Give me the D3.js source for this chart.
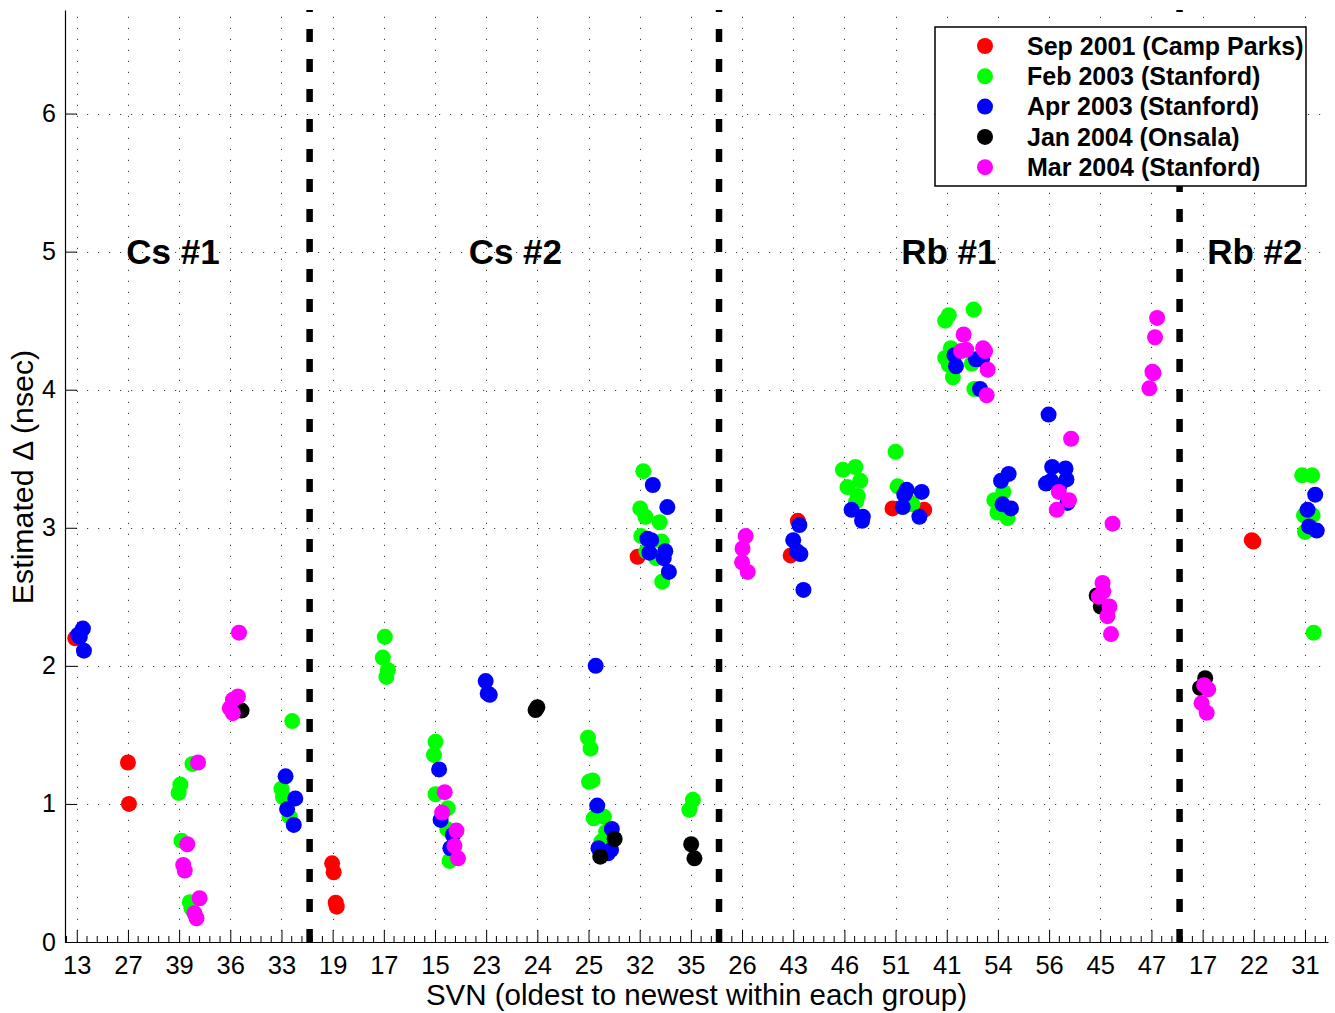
<!DOCTYPE html>
<html>
<head>
<meta charset="utf-8">
<script src="https://cdn.jsdelivr.net/npm/d3@7"></script>
<style>
  body { margin: 0; background: #fff; }
  text { font-family: "Liberation Sans", Arial, Helvetica, sans-serif; }
</style>
</head>
<body>
<svg id="chart" width="1335" height="1013"></svg>
<script>
// SVN labels, one per slot on the x axis (oldest to newest within each clock group)
const svnLabels = ["13","27","39","36","33","19","17","15","23","24","25","32","35",
                   "26","43","46","51","41","54","56","45","47","17","22","31"];
const groupNames   = ["Cs #1", "Cs #2", "Rb #1", "Rb #2"];
const groupCenters = [2.88, 9.57, 18.04, 24.02];
const groupBreaks  = [5.55, 13.55, 22.55];
const yTickValues  = [0, 1, 2, 3, 4, 5, 6];

const seriesNames  = ["Sep 2001 (Camp Parks)", "Feb 2003 (Stanford)", "Apr 2003 (Stanford)",
                      "Jan 2004 (Onsala)", "Mar 2004 (Stanford)"];
const seriesColors = ["#ff0000", "#00ff00", "#0000ff", "#000000", "#ff00ff"];

// [slot position, estimated delta in nsec]
const sep2001 = [
  [0.97,2.20],
  [2.00,1.30],[2.02,1.00],
  [5.99,0.57],[6.02,0.505],[6.06,0.285],[6.08,0.256],
  [11.96,2.79],
  [15.09,3.05],[14.95,2.80],
  [16.94,3.14],[17.25,3.19],[17.56,3.13],
  [23.96,2.91],[23.99,2.90]
];
const feb2003 = [
  [3.26,1.29],[3.025,1.14],[2.99,1.08],[3.045,0.734],[3.21,0.288],[3.24,0.244],
  [5.21,1.60],[5.00,1.11],[5.03,1.05],[5.16,0.908],
  [7.02,2.21],[6.98,2.06],[7.08,1.97],[7.05,1.92],
  [8.01,1.45],[7.98,1.355],[8.01,1.07],[8.25,0.969],[8.24,0.817],[8.285,0.587],
  [10.99,1.48],[11.04,1.40],[11.01,1.16],[11.08,1.17],[11.10,0.896],[11.30,0.908],[11.345,0.799],[11.25,0.727],
  [12.07,3.41],[12.01,3.14],[12.11,3.08],[12.39,3.04],[12.03,2.94],[12.43,2.90],[12.13,2.83],[12.32,2.78],[12.44,2.61],
  [13.04,1.03],[12.97,0.957],
  [15.97,3.42],[16.215,3.44],[16.31,3.34],[16.06,3.295],[16.26,3.23],[16.23,3.19],
  [17.00,3.55],[17.04,3.30],[17.33,3.17],
  [18.04,4.54],[17.97,4.50],[18.525,4.58],[18.08,4.30],[17.97,4.23],[18.04,4.18],[18.49,4.19],[18.12,4.09],[18.54,4.005],
  [19.105,3.26],[18.93,3.20],[18.99,3.11],[19.19,3.07],
  [24.945,3.38],[25.14,3.38],[24.98,3.09],[25.15,3.09],[25.00,2.97],[25.17,2.24]
];
const apr2003 = [
  [1.12,2.27],[1.025,2.225],[1.06,2.21],[1.14,2.11],
  [5.08,1.20],[5.27,1.04],[5.11,0.962],[5.24,0.848],
  [8.08,1.25],[8.11,0.884],[8.35,0.775],[8.30,0.679],
  [8.99,1.89],[9.03,1.80],[9.07,1.79],
  [11.14,2.00],[11.17,0.988],[11.455,0.819],[11.195,0.679],[11.44,0.667],[11.38,0.643],
  [12.256,3.31],[12.54,3.15],[12.15,2.92],[12.225,2.91],[12.19,2.82],[12.50,2.83],[12.47,2.78],[12.57,2.68],
  [15.12,3.02],[15.00,2.91],[15.14,2.81],[15.07,2.83],[15.20,2.55],
  [16.14,3.13],[16.36,3.08],[16.345,3.05],
  [17.217,3.275],[17.51,3.26],[17.17,3.24],[17.14,3.15],[17.465,3.08],
  [18.15,4.25],[18.18,4.17],[18.57,4.22],[18.69,4.22],[18.65,4.005],
  [19.21,3.39],[19.06,3.34],[19.09,3.17],[19.255,3.14],
  [19.99,3.82],[20.06,3.44],[20.32,3.43],[19.94,3.32],[20.04,3.34],[20.34,3.35],[20.20,3.30],[20.36,3.18],
  [25.20,3.24],[25.05,3.13],[25.08,3.01],[25.23,2.98]
];
const jan2004 = [
  [4.086,1.70],[4.22,1.676],
  [10.00,1.70],[9.965,1.68],
  [11.51,0.746],[11.23,0.618],
  [13.006,0.708],[13.07,0.606],
  [20.93,2.51],[21.01,2.43],
  [23.05,1.91],[22.95,1.84]
];
const mar2004 = [
  [3.37,1.30],[3.16,0.708],[3.08,0.558],[3.11,0.517],[3.40,0.317],[3.30,0.208],[3.34,0.172],
  [4.17,2.24],[4.05,1.754],[4.15,1.778],[3.99,1.693],[4.05,1.657],
  [8.19,1.085],[8.14,0.937],[8.42,0.807],[8.38,0.696],[8.45,0.606],
  [14.07,2.94],[14.01,2.85],[14.00,2.75],[14.11,2.68],
  [18.33,4.40],[18.28,4.28],[18.38,4.29],[18.71,4.30],[18.75,4.28],[18.80,4.145],[18.78,3.96],
  [20.43,3.645],[20.19,3.26],[20.39,3.20],[20.15,3.13],
  [21.24,3.03],[21.045,2.60],[21.06,2.54],[20.97,2.50],[21.18,2.43],[21.14,2.36],[21.21,2.23],
  [22.11,4.52],[22.07,4.38],[22.02,4.13],[22.04,4.12],[21.96,4.01],
  [23.03,1.86],[23.11,1.83],[22.98,1.73],[23.08,1.66]
];
const seriesData = [sep2001, feb2003, apr2003, jan2004, mar2004];

// ---- layout ----
const svg = d3.select("#chart");
const plot = { left: 65, right: 1328, top: 10, bottom: 942 };

const x = d3.scaleLinear().domain([0.77, 25.45]).range([plot.left, plot.right]);
const y = d3.scaleLinear().domain([0, 6.75]).range([plot.bottom, plot.top]);
const slots = d3.range(1, svnLabels.length + 1);

// dotted grid
const grid = svg.append("g").attr("stroke", "#000").attr("stroke-width", 1)
  .attr("stroke-dasharray", "1.2,9.8").attr("opacity", 0.75);
grid.selectAll("line.gx").data(slots).join("line")
  .attr("x1", d => Math.round(x(d)) + 0.5).attr("x2", d => Math.round(x(d)) + 0.5)
  .attr("y1", plot.bottom).attr("y2", plot.top);
grid.selectAll("line.gy").data(yTickValues.filter(v => v > 0)).join("line")
  .attr("y1", d => Math.round(y(d)) + 0.5).attr("y2", d => Math.round(y(d)) + 0.5)
  .attr("x1", plot.left).attr("x2", plot.right);

// group separators
svg.append("g").selectAll("line").data(groupBreaks).join("line")
  .attr("x1", d => x(d)).attr("x2", d => x(d))
  .attr("y1", plot.bottom).attr("y2", plot.top)
  .attr("stroke", "#000").attr("stroke-width", 6.5)
  .attr("stroke-dasharray", "13,17");

// axes
const xAxis = d3.axisBottom(x).tickValues(slots)
  .tickFormat(d => svnLabels[d - 1])
  .tickSizeInner(-12).tickSizeOuter(0).tickPadding(0);
const gx = svg.append("g").attr("transform", `translate(0,${plot.bottom})`).call(xAxis);
gx.select(".domain").attr("stroke", "#000").attr("stroke-width", 1.2);
gx.selectAll(".tick line").attr("stroke", "#000");
gx.selectAll(".tick text").attr("font-size", 25.5).attr("fill", "#000")
  .attr("dy", null).attr("y", 31.5)
  .attr("font-family", "Liberation Sans, Arial, sans-serif");

// minor x ticks
const minor = d3.range(0.8, 25.45, 0.2).filter(v => Math.abs(v - Math.round(v)) > 0.05);
svg.append("g").selectAll("line").data(minor).join("line")
  .attr("x1", d => x(d)).attr("x2", d => x(d))
  .attr("y1", plot.bottom).attr("y2", plot.bottom - 6)
  .attr("stroke", "#000").attr("stroke-width", 1);

const yAxis = d3.axisLeft(y).tickValues(yTickValues).tickFormat(d3.format("d"))
  .tickSizeInner(-12).tickSizeOuter(0).tickPadding(9);
const gy = svg.append("g").attr("transform", `translate(${plot.left},0)`).call(yAxis);
gy.select(".domain").attr("stroke", "#000").attr("stroke-width", 1.2);
gy.selectAll(".tick line").attr("stroke", "#000");
gy.selectAll(".tick text").attr("font-size", 25).attr("fill", "#000")
  .attr("font-family", "Liberation Sans, Arial, sans-serif");

// axis titles
svg.append("text").attr("x", (plot.left + plot.right) / 2).attr("y", 1005)
  .attr("text-anchor", "middle").attr("font-size", 29.5)
  .text("SVN (oldest to newest within each group)");
svg.append("text").attr("transform", `translate(33,${(plot.top + plot.bottom) / 2 + 1}) rotate(-90)`)
  .attr("text-anchor", "middle").attr("font-size", 30.3)
  .text("Estimated \u0394 (nsec)");

// group names
svg.append("g").selectAll("text").data(groupNames).join("text")
  .attr("x", (d, i) => x(groupCenters[i])).attr("y", y(5) + 12.5)
  .attr("text-anchor", "middle").attr("font-size", 35).attr("font-weight", "bold")
  .text(d => d);

// measurement points
const marks = svg.append("g");
seriesData.forEach((pts, s) => {
  marks.append("g").attr("fill", seriesColors[s])
    .selectAll("circle").data(pts).join("circle")
    .attr("cx", d => x(d[0])).attr("cy", d => y(d[1])).attr("r", 8);
});

// legend
const lg = svg.append("g").attr("transform", "translate(935,27)");
lg.append("rect").attr("width", 371).attr("height", 159)
  .attr("fill", "#fff").attr("stroke", "#000").attr("stroke-width", 1.5);
const items = lg.selectAll("g.item").data(seriesNames).join("g")
  .attr("transform", (d, i) => `translate(0,${19 + i * 30.3})`);
items.append("circle").attr("cx", 50).attr("cy", 0).attr("r", 8)
  .attr("fill", (d, i) => seriesColors[i]);
items.append("text").attr("x", 92).attr("y", 8.7)
  .attr("font-size", 25).attr("font-weight", "bold").text(d => d);
</script>
</body>
</html>
